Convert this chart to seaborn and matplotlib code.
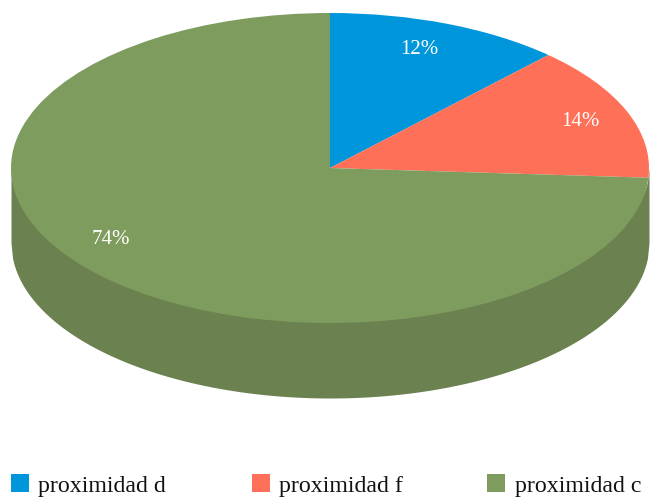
import numpy as np
import seaborn as sns
import matplotlib
matplotlib.use('Agg')
import matplotlib.pyplot as plt

categories = ['proximidad d', 'proximidad f', 'proximidad c']
shares = [12, 14, 74]
colors = ['#0096DB', '#FF7058', '#7F9C5F']
wall_color = '#6C8150'

sns.set_theme(style='white')
plt.rcParams['font.family'] = ['Liberation Serif', 'DejaVu Serif']

W, H = 650, 498
fig = plt.figure(figsize=(W / 100, H / 100), dpi=100)

# pixel box of the top ellipse: centre (330, 168), radii 319 x 155
cx, cy, rx, ry = 330, 168, 319, 155
depth = 75 / ry
ax = fig.add_axes([(cx - rx * 1.25) / W, 1 - (cy + ry * 1.25) / H,
                   2.5 * rx / W, 2.5 * ry / H])

# side wall first, the pie goes on top of it
t = np.linspace(-1, 1, 400)
lower = -np.sqrt(1 - t ** 2)
ax.fill_between(t, lower * 0.9, lower - depth, color=wall_color, lw=0, clip_on=False, zorder=1)

wedges, _ = ax.pie(shares, colors=colors, startangle=90, counterclock=False,
                   radius=1, wedgeprops={'linewidth': 0})
for w in wedges:
    w.set_zorder(2)
ax.set_aspect('auto')
ax.set_xlim(-1.25, 1.25)
ax.set_ylim(-1.25, 1.25)

# percent labels, placed in pixels like the original
label_pos = [(419, 49.5), (580, 121.5), (111, 239.5)]
for s, (px, py) in zip(shares, label_pos):
    fig.text(px / W, 1 - py / H, f'{s}%', color='white', fontsize=15,
             ha='center', va='center')

# legend entries
swatch_x = [11, 252, 487]
text_x = [38, 279, 515]
for name, col, px, tx in zip(categories, colors, swatch_x, text_x):
    fig.add_artist(plt.Rectangle((px / W, 1 - 492 / H), 18 / W, 18 / H, facecolor=col,
                                 edgecolor='none', transform=fig.transFigure))
    fig.text(tx / W, 1 - 486 / H, name, color='#111111', fontsize=17.2,
             ha='left', va='center')

fig.savefig('out.png', dpi=100)
